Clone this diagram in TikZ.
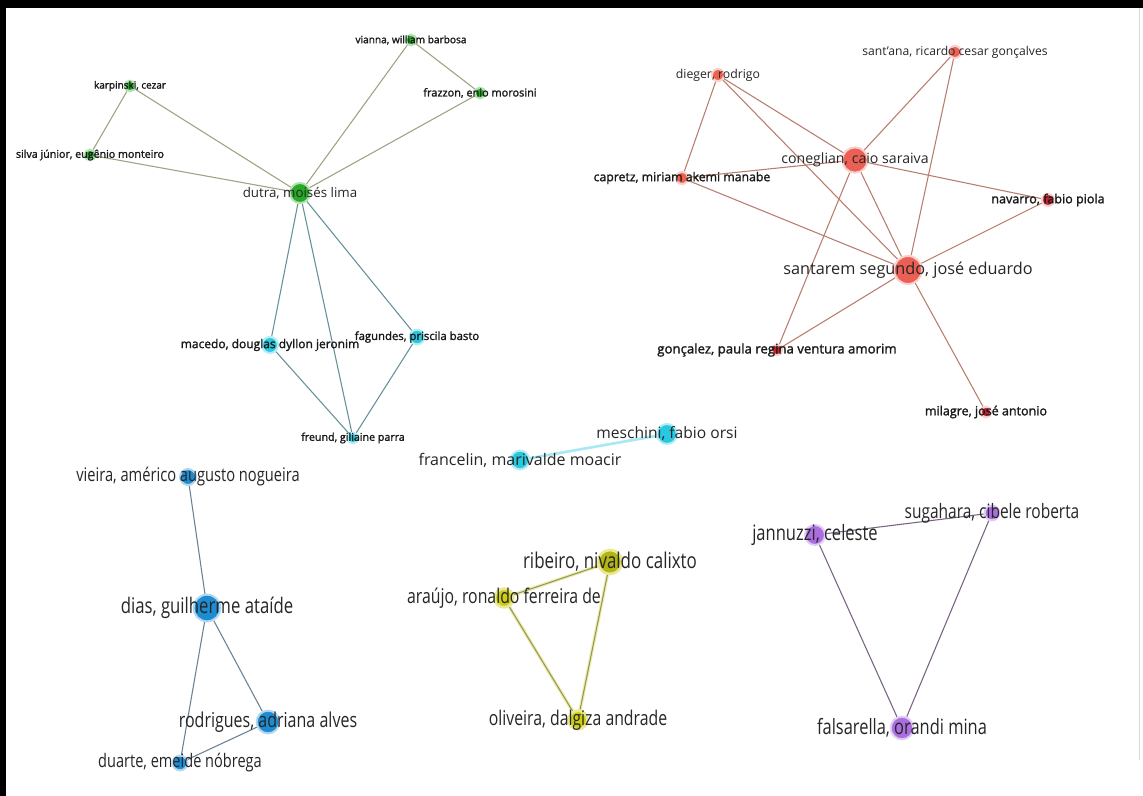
\documentclass[tikz,border=0pt]{standalone}
\usepackage{fontspec}
\setmainfont{Open Sans}
\newfontfamily\condfont[FakeStretch=0.78]{Open Sans}
\newfontfamily\heavyfont[FakeBold=1.6]{Open Sans}
\usetikzlibrary{backgrounds}

\definecolor{clgreen}{RGB}{40,170,40}
\definecolor{clcyan}{RGB}{40,200,225}
\definecolor{clred}{RGB}{235,95,85}
\definecolor{cldkred}{RGB}{195,35,45}
\definecolor{clblue}{RGB}{30,140,210}
\definecolor{clyellow}{RGB}{205,205,20}
\definecolor{clolive}{RGB}{180,180,20}
\definecolor{clpurple}{RGB}{170,110,225}

\begin{document}
\begin{tikzpicture}[x=0.75pt,y=-0.75pt,
		dot/.style={shape=circle, inner sep=0pt, minimum size=#1},
		lbl/.style={inner sep=0pt, text=black!85, font=\fontsize{#1pt}{#1pt}\selectfont},
		hlbl/.style={inner sep=0pt, text=black!90, font=\heavyfont\fontsize{#1pt}{#1pt}\selectfont},
		clbl/.style={inner sep=0pt, text=black!85, font=\condfont\fontsize{#1pt}{#1pt}\selectfont},
		link/.style={line width=0.8pt},
]
\useasboundingbox (0,0) rectangle (1143,796);

% green group
\node[dot=8pt,fill=clgreen,draw=clgreen!35,line width=1.5pt] (karp) at (130,86) {};
\node[dot=8pt,fill=clgreen,draw=clgreen!35,line width=1.5pt] (silva) at (90,155) {};
\node[dot=8pt,fill=clgreen,draw=clgreen!35,line width=1.5pt] (vianna) at (411,40) {};
\node[dot=8pt,fill=clgreen,draw=clgreen!35,line width=1.5pt] (frazzon) at (480,93) {};
\node[dot=15pt,fill=clgreen,draw=clgreen!35,line width=1.5pt] (dutra) at (300,193) {};

% cyan group
\node[dot=12pt,fill=clcyan,draw=clcyan!35,line width=1.5pt] (macedo) at (270,345) {};
\node[dot=11pt,fill=clcyan,draw=clcyan!35,line width=1.5pt] (fagundes) at (417,337) {};
\node[dot=8pt,fill=clcyan,draw=clcyan!35,line width=1.5pt] (freund) at (353,438) {};
\node[dot=14pt,fill=clcyan,draw=clcyan!35,line width=1.5pt] (francelin) at (520,460) {};
\node[dot=15pt,fill=clcyan,draw=clcyan!35,line width=1.5pt] (meschini) at (667,434) {};

% red group
\node[dot=9pt,fill=clred!90!orange,draw=clred!30,line width=1.5pt] (dieger) at (718,75) {};
\node[dot=9pt,fill=clred!90!orange,draw=clred!30,line width=1.5pt] (capretz) at (682,178) {};
\node[dot=9pt,fill=clred,draw=clred!30,line width=1.5pt] (santana) at (955,52) {};
\node[dot=19pt,fill=clred,draw=clred!30,line width=1.5pt] (coneglian) at (855,160) {};
\node[dot=9pt,fill=cldkred,draw=clred!30,line width=1.5pt] (navarro) at (1048,200) {};
\node[dot=21pt,fill=clred,draw=clred!30,line width=1.5pt] (santarem) at (908,270) {};
\node[dot=8pt,fill=cldkred,draw=clred!30,line width=1.5pt] (goncalez) at (777,350) {};
\node[dot=8pt,fill=cldkred,draw=clred!30,line width=1.5pt] (milagre) at (986,412) {};

% blue group
\node[dot=12pt,fill=clblue,draw=clblue!35,line width=1.5pt] (vieira) at (188,477) {};
\node[dot=20pt,fill=clblue,draw=clblue!35,line width=1.5pt] (dias) at (207,608) {};
\node[dot=17pt,fill=clblue,draw=clblue!35,line width=1.5pt] (rodrigues) at (268,722) {};
\node[dot=11pt,fill=clblue,draw=clblue!35,line width=1.5pt] (duarte) at (180,763) {};

% yellow group
\node[dot=18pt,fill=clolive,draw=clyellow!45,line width=2pt] (ribeiro) at (610,562) {};
\node[dot=14pt,fill=clyellow,draw=clyellow!45,line width=2pt] (araujo) at (504,598) {};
\node[dot=14pt,fill=clyellow,draw=clyellow!45,line width=2pt] (oliveira) at (578,720) {};

% purple group
\node[dot=15pt,fill=clpurple,draw=clpurple!35,line width=1.5pt] (jannuzzi) at (815,535) {};
\node[dot=11pt,fill=clpurple,draw=clpurple!35,line width=1.5pt] (sugahara) at (992,513) {};
\node[dot=17pt,fill=clpurple,draw=clpurple!35,line width=1.5pt] (falsarella) at (902,728) {};

% labels
\node[hlbl=7.5] at (karp) {karpinski, cezar};
\node[hlbl=8] at (silva) {silva júnior, eugênio monteiro};
\node[hlbl=7.6] at (vianna) {vianna, william barbosa};
\node[hlbl=8.2] at (frazzon) {frazzon, enio morosini};
\node[lbl=10] at (dutra) {dutra, moisés lima};
\node[hlbl=9] at (macedo) {macedo, douglas dyllon jeronim};
\node[hlbl=8.5] at (fagundes) {fagundes, priscila basto};
\node[hlbl=8] at (freund) {freund, giliaine parra};
\node[lbl=12] at (francelin) {francelin, marivalde moacir};
\node[lbl=11.7] at (meschini) {meschini, fabio orsi};
\node[lbl=9.2] at (dieger) {dieger, rodrigo};
\node[hlbl=9.2] at (capretz) {capretz, miriam akemi manabe};
\node[lbl=9.1] at (santana) {sant'ana, ricardo cesar gonçalves};
\node[lbl=10.6] at (coneglian) {coneglian, caio saraiva};
\node[hlbl=9.4] at (navarro) {navarro, fabio piola};
\node[lbl=12.2] at (santarem) {santarem segundo, josé eduardo};
\node[hlbl=9.9] at (goncalez) {gonçalez, paula regina ventura amorim};
\node[hlbl=9.4] at (milagre) {milagre, josé antonio};
\node[clbl=14.1] at (vieira) {vieira, américo augusto nogueira};
\node[clbl=16.1] at (dias) {dias, guilherme ataíde};
\node[clbl=15.4] at (rodrigues) {rodrigues, adriana alves};
\node[clbl=14] at (duarte) {duarte, emeide nóbrega};
\node[clbl=16.3] at (ribeiro) {ribeiro, nivaldo calixto};
\node[clbl=15.2] at (araujo) {araújo, ronaldo ferreira de};
\node[clbl=15.2] at (oliveira) {oliveira, dalgiza andrade};
\node[clbl=15.9] at (jannuzzi) {jannuzzi, celeste};
\node[clbl=14.9] at (sugahara) {sugahara, cibele roberta};
\node[clbl=15.8] at (falsarella) {falsarella, orandi mina};

\begin{scope}[on background layer]
\fill[white] (0,0) rectangle (1143,796);
% green links
\draw[link,draw={rgb,255:red,160;green,162;blue,130}] (karp) -- (silva);
\draw[link,draw={rgb,255:red,160;green,162;blue,130}] (karp) -- (dutra);
\draw[link,draw={rgb,255:red,160;green,162;blue,130}] (silva) -- (dutra);
\draw[link,draw={rgb,255:red,160;green,162;blue,130}] (vianna) -- (dutra);
\draw[link,draw={rgb,255:red,160;green,162;blue,130}] (vianna) -- (frazzon);
\draw[link,draw={rgb,255:red,160;green,162;blue,130}] (frazzon) -- (dutra);
% cyan links
\draw[link,draw={rgb,255:red,100;green,145;blue,155}] (dutra) -- (macedo);
\draw[link,draw={rgb,255:red,100;green,145;blue,155}] (dutra) -- (freund);
\draw[link,draw={rgb,255:red,100;green,145;blue,155}] (dutra) -- (fagundes);
\draw[link,draw={rgb,255:red,100;green,145;blue,155}] (macedo) -- (freund);
\draw[link,draw={rgb,255:red,100;green,145;blue,155}] (fagundes) -- (freund);
\draw[line width=2pt,draw=clcyan!40] (francelin) -- (meschini);
% red links
\draw[link,draw={rgb,255:red,185;green,125;blue,110}] (dieger) -- (capretz);
\draw[link,draw={rgb,255:red,185;green,125;blue,110}] (dieger) -- (coneglian);
\draw[link,draw={rgb,255:red,185;green,125;blue,110}] (dieger) -- (santarem);
\draw[link,draw={rgb,255:red,185;green,125;blue,110}] (santana) -- (coneglian);
\draw[link,draw={rgb,255:red,185;green,125;blue,110}] (santana) -- (santarem);
\draw[link,draw={rgb,255:red,185;green,125;blue,110}] (coneglian) -- (capretz);
\draw[link,draw={rgb,255:red,185;green,125;blue,110}] (coneglian) -- (navarro);
\draw[link,draw={rgb,255:red,185;green,125;blue,110}] (coneglian) -- (santarem);
\draw[link,draw={rgb,255:red,185;green,125;blue,110}] (coneglian) -- (goncalez);
\draw[link,draw={rgb,255:red,185;green,125;blue,110}] (capretz) -- (santarem);
\draw[link,draw={rgb,255:red,185;green,125;blue,110}] (navarro) -- (santarem);
\draw[link,draw={rgb,255:red,185;green,125;blue,110}] (goncalez) -- (santarem);
\draw[link,draw={rgb,255:red,185;green,125;blue,110}] (santarem) -- (milagre);
% blue links
\draw[link,draw={rgb,255:red,105;green,130;blue,150}] (vieira) -- (dias);
\draw[link,draw={rgb,255:red,105;green,130;blue,150}] (dias) -- (rodrigues);
\draw[link,draw={rgb,255:red,105;green,130;blue,150}] (dias) -- (duarte);
\draw[link,draw={rgb,255:red,105;green,130;blue,150}] (rodrigues) -- (duarte);
% yellow links
\draw[line width=2.5pt,draw=clyellow!35] (ribeiro) -- (araujo) -- (oliveira) -- (ribeiro);
\draw[link,draw={rgb,255:red,150;green,150;blue,90}] (ribeiro) -- (araujo);
\draw[link,draw={rgb,255:red,150;green,150;blue,90}] (araujo) -- (oliveira);
\draw[link,draw={rgb,255:red,150;green,150;blue,90}] (ribeiro) -- (oliveira);
% purple links
\draw[link,draw={rgb,255:red,120;green,100;blue,130}] (jannuzzi) -- (sugahara);
\draw[link,draw={rgb,255:red,120;green,100;blue,130}] (jannuzzi) -- (falsarella);
\draw[link,draw={rgb,255:red,120;green,100;blue,130}] (sugahara) -- (falsarella);
\end{scope}

% frame
\fill[black] (0,0) rectangle (1143,8);
\fill[black] (0,0) rectangle (6,796);
\draw[black!15] (1139,8) -- (1139,760);
\end{tikzpicture}
\end{document}
